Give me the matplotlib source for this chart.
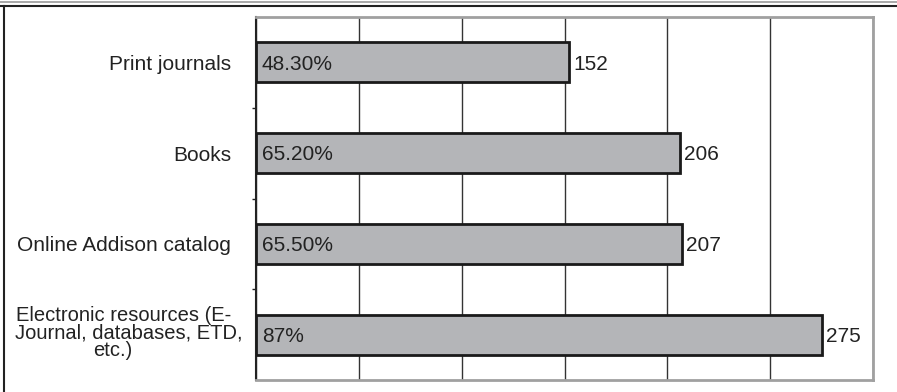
import matplotlib
matplotlib.use("Agg")
import matplotlib.pyplot as plt
from matplotlib.lines import Line2D
from matplotlib.transforms import blended_transform_factory

categories = ["Print journals", "Books", "Online Addison catalog",
              "Electronic resources (E-\nJournal, databases, ETD,\netc.)"]
counts = [152, 206, 207, 275]
percents = ["48.30%", "65.20%", "65.50%", "87%"]

plt.rcParams['font.family'] = ['Liberation Sans', 'DejaVu Sans']
W, H = 897, 392

fig = plt.figure(figsize=(W / 100, H / 100), dpi=100)
ax = fig.add_axes([256 / W, 1 - 380 / H, (873 - 256) / W, (380 - 17) / H])

y = list(range(len(categories)))
ax.barh(y, counts, height=0.44, color="#b4b5b8", edgecolor="#1a1a1a", linewidth=2, zorder=3)

for i, (c, p) in enumerate(zip(counts, percents)):
    ax.text(2.8, i + 0.02, p, va="center", ha="left", fontsize=15, color="#222222", zorder=4)
    ax.text(c + 2.2, i + 0.02, str(c), va="center", ha="left", fontsize=15, color="#222222", zorder=4)

ax.set_xlim(0, 300)
ax.set_ylim(len(categories) - 0.5, -0.5)
ax.set_xticks(range(0, 301, 50))
ax.tick_params(axis="x", length=0, labelbottom=False)
ax.grid(axis="x", color="#333333", linewidth=1)
ax.set_axisbelow(True)

# single-line labels as tick labels, the wrapped one placed line by line
ax.set_yticks(y)
ax.set_yticklabels([c if "\n" not in c else "" for c in categories], fontsize=15, color="#222222")
ax.tick_params(axis="y", length=0, pad=18)
trans = blended_transform_factory(fig.transFigure, ax.transData)
last = len(categories) - 1
lines = categories[last].split("\n")
offsets = [-0.21, -0.02, 0.17]
xs = [16 / W, 15 / W, 113 / W]
has = ["left", "left", "center"]
for line, off, xx, ha in zip(lines, offsets, xs, has):
    ax.text(xx, last + off, line, transform=trans, ha=ha, va="center", fontsize=14.5,
            color="#222222", clip_on=False)

# minor ticks on category boundaries
ax.set_yticks([0.5, 1.5, 2.5], minor=True)
ax.tick_params(axis="y", which="minor", length=3, width=1, color="#222222")

for side in ["top", "right", "bottom"]:
    ax.spines[side].set_color("#a0a0a0")
    ax.spines[side].set_linewidth(2)
ax.spines["left"].set_color("#222222")
ax.spines["left"].set_linewidth(1.5)

# outer frame lines
fig.add_artist(Line2D([0, 1], [1 - 1.5 / H] * 2, color="#999999", linewidth=1.2, transform=fig.transFigure))
fig.add_artist(Line2D([0, 1], [1 - 5.5 / H] * 2, color="#222222", linewidth=1.5, transform=fig.transFigure))
fig.add_artist(Line2D([3.5 / W] * 2, [0, 1 - 5.5 / H], color="#222222", linewidth=1.5, transform=fig.transFigure))

fig.savefig("out.png", dpi=100)
